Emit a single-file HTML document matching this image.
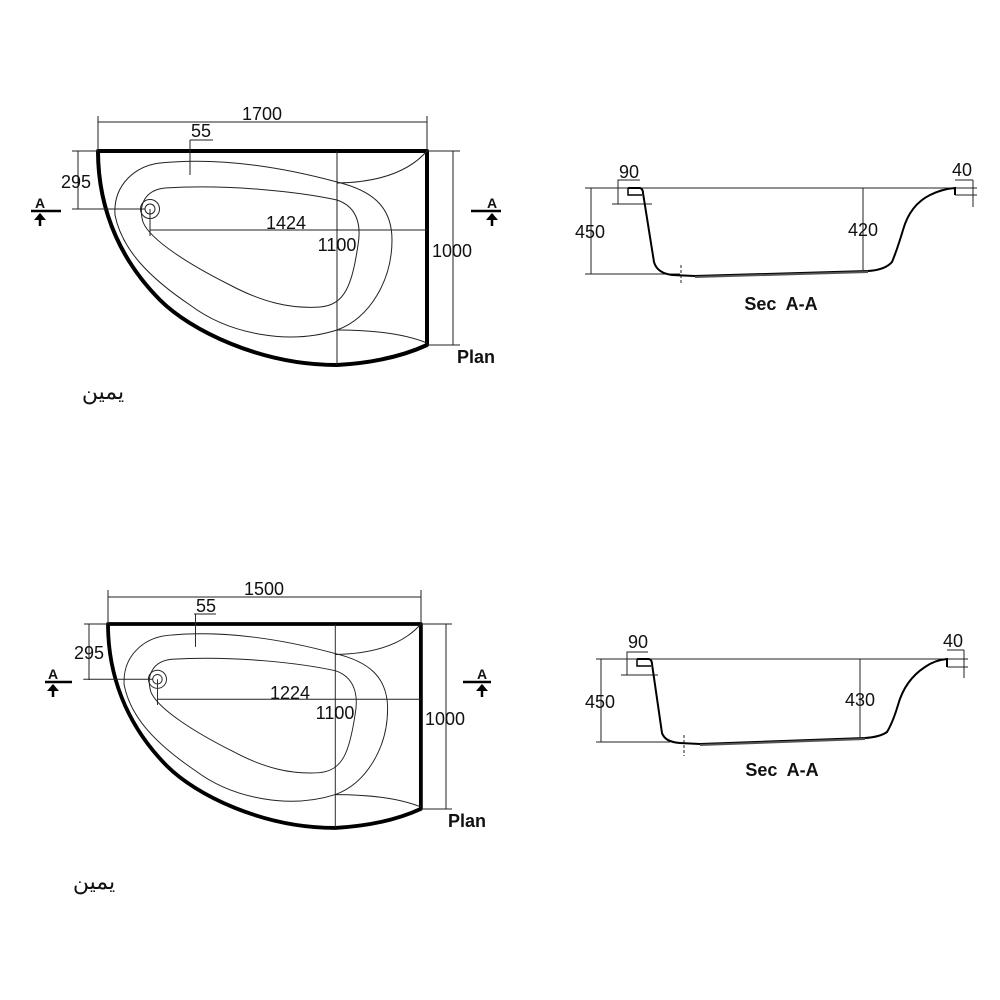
<!DOCTYPE html>
<html><head><meta charset="utf-8"><style>
html,body{margin:0;padding:0;background:#fff;}
svg{display:block}
text{font-family:"Liberation Sans",Arial,sans-serif;fill:#111}
</style></head><body>
<svg width="1000" height="1000" viewBox="0 0 1000 1000" xmlns="http://www.w3.org/2000/svg">
<defs>
<g id="plan">
  <path d="M98,151 H427 V345 Q390,362 337,365 C260,365 190,330 160,300 C125,265 98,215 98,151 Z" fill="none" stroke="#000" stroke-width="4" stroke-linejoin="round"/>
  <path d="M160,163 C230,156 300,172 337,182 C370,190 392,205 392,240 C392,280 370,318 337,330 C290,345 230,335 190,305 C150,278 122,250 115,215 C113,185 135,166 160,163 Z" fill="none" stroke="#222" stroke-width="1"/>
  <path d="M165,188 C230,184 300,192 337,200 C355,206 362,222 358,245 C352,285 345,305 320,307 C290,309 262,302 230,285 C190,265 150,240 143,222 C138,205 145,190 165,188 Z" fill="none" stroke="#222" stroke-width="1"/>
  <path d="M427,151 Q400,182 337,183" fill="none" stroke="#222" stroke-width="1"/>
  <path d="M337,330 Q395,330 427,343" fill="none" stroke="#222" stroke-width="1"/>
  <line x1="337" y1="151" x2="337" y2="365" stroke="#222" stroke-width="1"/>
  <circle cx="150" cy="209" r="9.5" fill="none" stroke="#222" stroke-width="1"/>
  <circle cx="150" cy="209" r="5" fill="none" stroke="#222" stroke-width="1"/>
  <line x1="150" y1="209" x2="150" y2="236" stroke="#222" stroke-width="1"/>
  <line x1="150" y1="230" x2="427" y2="230" stroke="#222" stroke-width="1"/>
  <line x1="72" y1="209" x2="145" y2="209" stroke="#222" stroke-width="1"/>
  <line x1="190" y1="140" x2="190" y2="175" stroke="#222" stroke-width="1"/>
</g>
</defs>

<use href="#plan"/>
<g stroke="#222" stroke-width="1" fill="none">
  <line x1="98" y1="116" x2="98" y2="151"/><line x1="427" y1="116" x2="427" y2="151"/>
  <line x1="98" y1="122" x2="427" y2="122"/>
  <line x1="190" y1="140" x2="213" y2="140"/>
  <line x1="72" y1="151" x2="98" y2="151"/>
  <line x1="78" y1="151" x2="78" y2="209"/>
  <line x1="427" y1="151" x2="460" y2="151"/><line x1="427" y1="345" x2="460" y2="345"/>
  <line x1="453" y1="151" x2="453" y2="345"/>
</g>
<text x="262" y="120" font-size="18" text-anchor="middle">1700</text>
<text x="201" y="137" font-size="18" text-anchor="middle">55</text>
<text x="76" y="188" font-size="18" text-anchor="middle">295</text>
<text x="286" y="229" font-size="18" text-anchor="middle">1424</text>
<text x="337" y="251" font-size="18" text-anchor="middle">1100</text>
<text x="452" y="257" font-size="18" text-anchor="middle">1000</text>
<text x="457" y="363" font-size="18" font-weight="bold">Plan</text>
<text x="103" y="399" font-size="22" text-anchor="middle" font-family="DejaVu Serif,serif">يمين</text>

<g fill="#000" stroke="#000">
  <line x1="31" y1="211" x2="61" y2="211" stroke-width="2.5"/>
  <line x1="40" y1="214" x2="40" y2="226" stroke-width="2.5"/>
  <path d="M34,220 L40,213 L46,220 Z" stroke="none"/>
  <line x1="471" y1="211" x2="501" y2="211" stroke-width="2.5"/>
  <line x1="492" y1="214" x2="492" y2="226" stroke-width="2.5"/>
  <path d="M486,220 L492,213 L498,220 Z" stroke="none"/>
</g>
<text x="40" y="208" font-size="14" font-weight="bold" text-anchor="middle">A</text>
<text x="492" y="208" font-size="14" font-weight="bold" text-anchor="middle">A</text>

<g stroke="#222" stroke-width="1" fill="none">
  <line x1="585" y1="188" x2="977" y2="188"/>
  <line x1="585" y1="274" x2="680" y2="274"/>
  <line x1="591" y1="188" x2="591" y2="274"/>
  <path d="M618,188 V180 H640"/>
  <line x1="618" y1="180" x2="618" y2="204"/>
  <line x1="612" y1="204" x2="652" y2="204" />
  <line x1="863" y1="188" x2="863" y2="270"/>
  <line x1="955" y1="195" x2="977" y2="195"/>
  <path d="M973,180 V207"/><line x1="955" y1="180" x2="973" y2="180"/>
  <line x1="681" y1="265" x2="681" y2="285" stroke-dasharray="3,2"/>
</g>
<path d="M628,188 H640 Q643,189 643,193 L654,262 Q657,273 672,275 L695,276 L868,271 Q885,270 892,262 Q897,250 903,230 Q910,205 930,195 Q942,189 955,188 V195" fill="none" stroke="#000" stroke-width="2"/>
<path d="M628,188 V195 H642" fill="none" stroke="#000" stroke-width="1.5"/>
<path d="M695,276 L868,271 L868,273 L695,278 Z" fill="#555"/>
<text x="629" y="178" font-size="18" text-anchor="middle">90</text>
<text x="962" y="176" font-size="18" text-anchor="middle">40</text>
<text x="590" y="238" font-size="18" text-anchor="middle">450</text>
<text x="863" y="236" font-size="18" text-anchor="middle">420</text>
<text x="781" y="310" font-size="18" font-weight="bold" text-anchor="middle">Sec&#160; A-A</text>

<g transform="translate(108,624) scale(0.951,0.953) translate(-98,-151)">
  <use href="#plan"/>
</g>
<g stroke="#222" stroke-width="1" fill="none">
  <line x1="108" y1="590" x2="108" y2="624"/><line x1="421" y1="590" x2="421" y2="624"/>
  <line x1="108" y1="597" x2="421" y2="597"/>
  <line x1="194" y1="614" x2="216" y2="614"/>
  <line x1="84" y1="624" x2="108" y2="624"/>
  <line x1="89" y1="624" x2="89" y2="680"/>
  <line x1="421" y1="624" x2="452" y2="624"/><line x1="421" y1="809" x2="452" y2="809"/>
  <line x1="446" y1="624" x2="446" y2="809"/>
</g>
<text x="264" y="595" font-size="18" text-anchor="middle">1500</text>
<text x="206" y="612" font-size="18" text-anchor="middle">55</text>
<text x="89" y="659" font-size="18" text-anchor="middle">295</text>
<text x="290" y="699" font-size="18" text-anchor="middle">1224</text>
<text x="335" y="719" font-size="18" text-anchor="middle">1100</text>
<text x="445" y="725" font-size="18" text-anchor="middle">1000</text>
<text x="448" y="827" font-size="18" font-weight="bold">Plan</text>
<text x="94" y="889" font-size="22" text-anchor="middle" font-family="DejaVu Serif,serif">يمين</text>
<g fill="#000" stroke="#000">
  <line x1="45" y1="682" x2="72" y2="682" stroke-width="2.5"/>
  <line x1="53" y1="685" x2="53" y2="697" stroke-width="2.5"/>
  <path d="M47,691 L53,684 L59,691 Z" stroke="none"/>
  <line x1="463" y1="682" x2="491" y2="682" stroke-width="2.5"/>
  <line x1="482" y1="685" x2="482" y2="697" stroke-width="2.5"/>
  <path d="M476,691 L482,684 L488,691 Z" stroke="none"/>
</g>
<text x="53" y="679" font-size="14" font-weight="bold" text-anchor="middle">A</text>
<text x="482" y="679" font-size="14" font-weight="bold" text-anchor="middle">A</text>

<g stroke="#222" stroke-width="1" fill="none">
  <line x1="596" y1="659" x2="968" y2="659"/>
  <line x1="596" y1="742" x2="670" y2="742"/>
  <line x1="601" y1="659" x2="601" y2="742"/>
  <path d="M627,659 V652 H648"/>
  <line x1="627" y1="652" x2="627" y2="675"/>
  <line x1="621" y1="675" x2="658" y2="675"/>
  <line x1="860" y1="659" x2="860" y2="737"/>
  <line x1="947" y1="667" x2="968" y2="667"/>
  <path d="M964,650 V678"/><line x1="947" y1="650" x2="964" y2="650"/>
  <line x1="684" y1="735" x2="684" y2="756" stroke-dasharray="3,2"/>
</g>
<path d="M637,659 H649 Q652,660 652,664 L662,733 Q665,742 680,743 L700,744 L865,738 Q880,737 887,732 Q893,722 898,705 Q905,680 925,667 Q935,660 947,659 V667" fill="none" stroke="#000" stroke-width="2"/>
<path d="M637,659 V666 H651" fill="none" stroke="#000" stroke-width="1.5"/>
<path d="M700,744 L865,738 L865,740 L700,746 Z" fill="#555"/>
<text x="638" y="648" font-size="18" text-anchor="middle">90</text>
<text x="953" y="647" font-size="18" text-anchor="middle">40</text>
<text x="600" y="708" font-size="18" text-anchor="middle">450</text>
<text x="860" y="706" font-size="18" text-anchor="middle">430</text>
<text x="782" y="776" font-size="18" font-weight="bold" text-anchor="middle">Sec&#160; A-A</text>
</svg>
</body></html>
